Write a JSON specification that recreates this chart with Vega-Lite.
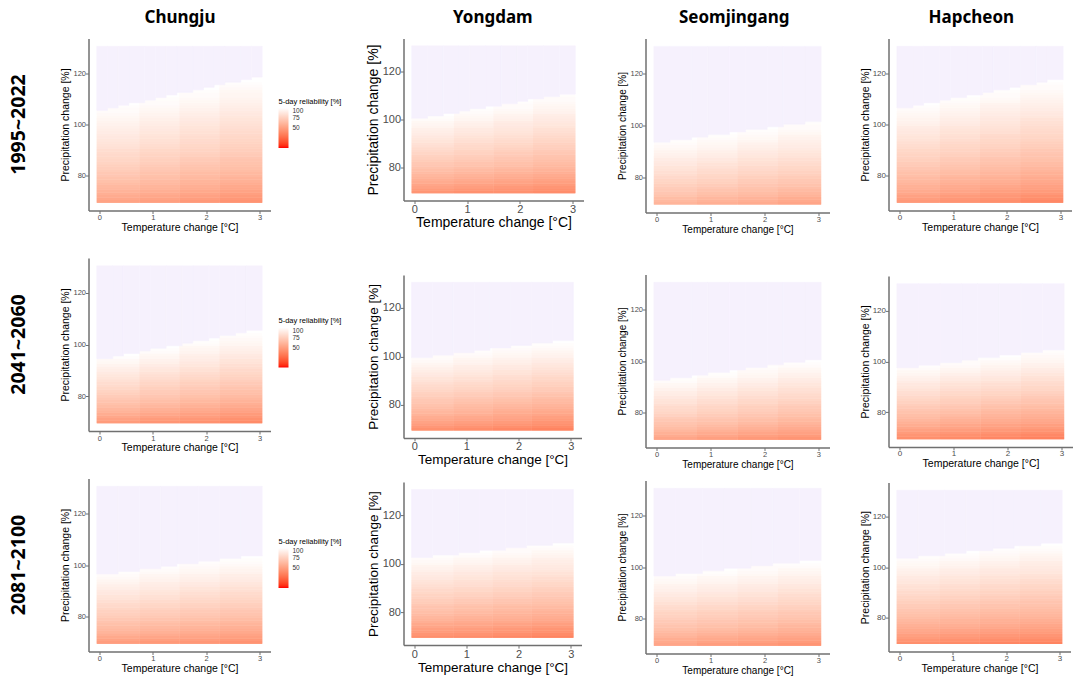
{
"$schema":"https://vega.github.io/schema/vega-lite/v6.json",
"padding":{"left":8.5,"top":8.5,"right":2,"bottom":2},
"background":"white",
"config":{"view":{"stroke":null},"axis":{"grid":false,"domainColor":"#707070","domainWidth":1.5,"tickColor":"#707070","tickWidth":1,"tickSize":3,"labelColor":"#4d4d4d","titleColor":"#000000","labelFont":"Liberation Sans","titleFont":"Liberation Sans","titleFontWeight":"normal","labelPadding":0},"title":{"font":"Noto Sans","fontWeight":"bold","color":"#000000"}},
"datasets":{
"cols":[{"k":"a","x0":-0.05,"x1":0.75},{"k":"b","x0":0.75,"x1":1.5},{"k":"c","x0":1.5,"x1":2.25},{"k":"d","x0":2.25,"x1":3.05}],
"lev":[{"i":1,"y":69.5,"y2":70.5},{"i":2,"y":70.5,"y2":71.5},{"i":3,"y":71.5,"y2":72.5},{"i":4,"y":72.5,"y2":73.5},{"i":5,"y":73.5,"y2":74.5},{"i":6,"y":74.5,"y2":75.5},{"i":7,"y":75.5,"y2":76.5},{"i":8,"y":76.5,"y2":77.5},{"i":9,"y":77.5,"y2":78.5},{"i":10,"y":78.5,"y2":79.5},{"i":11,"y":79.5,"y2":80.5},{"i":12,"y":80.5,"y2":81.5},{"i":13,"y":81.5,"y2":82.5},{"i":14,"y":82.5,"y2":83.5},{"i":15,"y":83.5,"y2":84.5},{"i":16,"y":84.5,"y2":85.5},{"i":17,"y":85.5,"y2":86.5},{"i":18,"y":86.5,"y2":87.5},{"i":19,"y":87.5,"y2":88.5},{"i":20,"y":88.5,"y2":89.5},{"i":21,"y":89.5,"y2":90.5},{"i":22,"y":90.5,"y2":91.5},{"i":23,"y":91.5,"y2":92.5},{"i":24,"y":92.5,"y2":93.5},{"i":25,"y":93.5,"y2":94.5},{"i":26,"y":94.5,"y2":95.5},{"i":27,"y":95.5,"y2":96.5},{"i":28,"y":96.5,"y2":97.5},{"i":29,"y":97.5,"y2":98.5},{"i":30,"y":98.5,"y2":99.5},{"i":31,"y":99.5,"y2":100.5},{"i":32,"y":100.5,"y2":101.5},{"i":33,"y":101.5,"y2":102.5},{"i":34,"y":102.5,"y2":103.5},{"i":35,"y":103.5,"y2":104.5},{"i":36,"y":104.5,"y2":105.5},{"i":37,"y":105.5,"y2":106.5},{"i":38,"y":106.5,"y2":107.5},{"i":39,"y":107.5,"y2":108.5},{"i":40,"y":108.5,"y2":109.5},{"i":41,"y":109.5,"y2":110.5},{"i":42,"y":110.5,"y2":111.5},{"i":43,"y":111.5,"y2":112.5},{"i":44,"y":112.5,"y2":113.5},{"i":45,"y":113.5,"y2":114.5},{"i":46,"y":114.5,"y2":115.5},{"i":47,"y":115.5,"y2":116.5}],
"grid":[
{"p":"C1","k":"a","v":[52,54,56,58,60,62,63,65,67,68,70,71,73,74,75,77,78,79,80,81,82,84,85,86,87,88,89,90,91,92,93,94,95,96,97,98,98,99]},
{"p":"C1","k":"b","v":[50,52,54,56,58,60,61,63,64,66,67,68,70,71,72,74,75,76,77,78,79,81,82,83,84,85,86,87,88,89,90,91,92,93,94,95,96,97,98,98,99]},
{"p":"C1","k":"c","v":[47,49,51,53,55,57,58,60,61,63,64,65,67,68,69,71,72,73,75,76,77,78,79,80,81,82,83,84,85,86,87,88,89,90,91,92,93,94,95,96,97,98,98,99]},
{"p":"C1","k":"d","v":[44,46,48,50,52,54,55,57,59,60,62,63,65,66,67,68,69,70,72,73,74,75,76,77,78,79,80,81,82,83,84,85,86,87,88,89,90,91,92,93,94,95,95,96,97,98,99]},
{"p":"Y1","k":"a","v":[45,48,51,53,56,58,60,62,64,66,68,70,71,73,75,76,78,80,81,83,84,86,87,88,90,91,92,94,95,96,98,99]},
{"p":"Y1","k":"b","v":[43,46,49,51,54,56,58,60,62,64,66,68,69,71,73,74,76,77,79,80,81,83,84,85,87,88,89,91,92,93,95,96,97,98,99]},
{"p":"Y1","k":"c","v":[43,45,47,50,52,54,56,58,60,62,64,66,67,69,70,72,73,75,76,78,79,81,82,83,85,86,87,88,89,90,92,93,94,96,97,98,98,99]},
{"p":"Y1","k":"d","v":[41,43,45,48,50,52,54,56,58,60,62,63,65,66,68,69,71,72,74,75,76,78,79,80,82,83,84,86,87,88,89,90,91,93,94,95,96,97,98,98,99]},
{"p":"S1","k":"a","v":[61,63,65,68,70,72,73,75,77,78,80,82,83,85,86,88,89,90,92,93,94,96,97,98,99]},
{"p":"S1","k":"b","v":[58,60,62,65,67,69,71,73,75,76,78,79,81,82,84,85,87,88,90,91,92,94,95,96,97,98,99]},
{"p":"S1","k":"c","v":[56,58,60,63,65,67,68,70,72,73,75,77,78,80,81,83,84,85,87,88,89,91,92,93,95,96,97,98,99]},
{"p":"S1","k":"d","v":[53,55,57,60,62,64,66,68,70,71,73,75,76,78,79,81,82,83,85,86,87,89,90,91,92,93,94,96,97,98,98,99]},
{"p":"H1","k":"a","v":[47,49,51,54,56,58,59,61,63,64,66,67,69,70,72,73,75,76,77,78,79,81,82,83,85,86,87,88,89,90,92,93,94,95,96,97,98,99]},
{"p":"H1","k":"b","v":[44,46,48,51,53,55,56,58,60,61,63,65,66,68,69,71,72,73,75,76,77,78,79,80,82,83,84,85,86,87,89,90,91,92,93,94,95,96,97,98,99]},
{"p":"H1","k":"c","v":[42,44,46,48,50,52,54,56,58,59,61,62,64,65,66,68,69,70,72,73,74,76,77,78,79,80,81,83,84,85,86,87,88,89,90,91,92,93,94,96,97,98,98,99]},
{"p":"H1","k":"d","v":[39,41,43,46,48,50,51,53,55,56,58,59,61,62,64,65,67,68,69,70,71,73,74,75,77,78,79,80,81,82,83,84,85,87,88,89,90,91,92,93,94,95,96,97,98,98,99]},
{"p":"C2","k":"a","v":[48,51,54,57,60,62,65,67,69,71,73,75,77,79,81,82,84,86,87,89,91,92,94,96,97,99]},
{"p":"C2","k":"b","v":[45,48,51,54,57,59,62,64,66,68,70,72,73,75,77,78,80,82,83,85,87,88,90,92,93,95,96,98,99]},
{"p":"C2","k":"c","v":[43,46,49,51,54,56,59,61,63,65,67,69,70,72,74,75,77,79,80,82,84,85,87,88,90,91,92,94,95,96,98,99]},
{"p":"C2","k":"d","v":[40,43,46,48,51,53,56,58,60,62,64,66,67,69,71,72,74,76,77,79,80,82,83,85,86,88,89,91,92,93,95,96,97,98,99]},
{"p":"Y2","k":"a","v":[43,46,49,52,55,57,60,62,64,66,68,70,71,73,75,76,78,80,81,83,85,86,88,89,91,92,94,95,97,98,98,99]},
{"p":"Y2","k":"b","v":[41,44,47,50,53,55,58,60,62,63,65,67,69,71,73,74,76,78,79,81,83,84,86,87,89,90,91,93,94,95,97,98,99]},
{"p":"Y2","k":"c","v":[39,42,45,48,51,53,55,57,59,61,63,65,67,69,71,72,74,76,77,79,80,82,83,85,86,88,89,91,92,93,95,96,97,98,99]},
{"p":"Y2","k":"d","v":[37,40,43,45,48,50,53,55,57,59,61,63,64,66,68,70,72,73,75,76,78,79,81,82,84,85,87,88,90,91,93,94,95,97,98,99]},
{"p":"S2","k":"a","v":[53,56,59,62,65,67,69,71,73,76,78,80,81,83,85,86,88,90,91,93,95,96,98,99]},
{"p":"S2","k":"b","v":[50,53,56,59,62,64,67,69,71,73,75,77,78,80,82,83,85,87,88,90,92,93,95,96,98,99]},
{"p":"S2","k":"c","v":[47,50,53,56,59,61,64,66,68,70,72,74,75,77,79,80,82,84,85,87,89,90,92,93,95,96,97,98,99]},
{"p":"S2","k":"d","v":[45,48,51,53,56,58,61,63,65,67,69,71,72,74,76,78,80,81,83,84,86,87,89,90,92,93,95,96,98,99]},
{"p":"H2","k":"a","v":[42,45,48,51,54,57,59,62,64,66,68,70,72,74,76,78,80,82,83,85,87,88,90,92,93,95,96,98,99]},
{"p":"H2","k":"b","v":[40,43,46,49,52,54,57,59,61,64,66,68,70,72,74,75,77,79,80,82,84,85,87,89,90,92,94,95,97,98,98,99]},
{"p":"H2","k":"c","v":[38,41,44,47,50,52,55,57,59,61,63,65,67,69,71,73,75,77,78,80,82,83,85,87,88,90,91,93,94,96,97,99]},
{"p":"H2","k":"d","v":[36,39,42,45,48,50,53,55,57,59,61,63,65,67,69,70,72,74,76,78,79,81,82,84,85,87,89,90,92,93,95,96,97,98,99]},
{"p":"C3","k":"a","v":[49,52,55,58,61,63,65,67,69,71,73,75,76,78,80,81,83,85,86,88,89,91,92,94,95,97,98,99]},
{"p":"C3","k":"b","v":[47,50,53,56,59,61,63,65,67,69,71,73,74,76,78,79,81,83,84,86,87,89,90,91,93,94,95,97,98,99]},
{"p":"C3","k":"c","v":[46,49,52,54,57,59,61,63,65,67,69,71,72,74,76,77,79,80,82,83,85,86,88,89,91,92,93,95,96,97,98,99]},
{"p":"C3","k":"d","v":[44,47,50,52,55,57,59,61,63,65,67,69,70,72,74,75,77,78,80,81,83,84,86,87,89,90,91,93,94,95,97,98,99]},
{"p":"Y3","k":"a","v":[42,45,48,50,53,55,58,60,62,64,66,68,69,71,73,74,76,77,79,80,82,83,85,86,88,89,90,92,93,94,96,97,98,99]},
{"p":"Y3","k":"b","v":[41,44,47,49,52,54,56,58,60,62,64,66,67,69,71,72,74,76,77,79,80,82,83,84,86,87,88,90,91,92,94,95,96,98,99]},
{"p":"Y3","k":"c","v":[39,42,45,47,50,52,55,57,59,60,62,64,65,67,69,70,72,74,75,77,78,80,81,82,84,85,86,88,89,90,92,93,94,96,97,98,98,99]},
{"p":"Y3","k":"d","v":[37,40,43,45,48,50,53,55,57,58,60,62,64,66,67,69,70,72,73,75,76,78,79,81,82,84,85,87,88,89,90,91,92,94,95,96,98,99]},
{"p":"S3","k":"a","v":[53,55,57,60,62,64,67,69,71,72,74,76,77,79,81,82,84,86,87,89,90,92,93,94,96,97,98,99]},
{"p":"S3","k":"b","v":[49,52,55,57,60,62,65,67,69,70,72,74,75,77,79,80,82,84,85,87,88,90,91,92,94,95,96,98,99]},
{"p":"S3","k":"c","v":[47,50,53,55,58,60,63,65,67,68,70,72,73,75,77,78,80,82,83,85,86,88,89,90,92,93,94,96,97,98,98,99]},
{"p":"S3","k":"d","v":[45,48,51,53,56,58,60,62,64,66,68,70,71,73,75,76,78,79,81,82,84,85,87,88,90,91,92,94,95,96,98,99]},
{"p":"H3","k":"a","v":[42,45,48,50,53,55,57,59,61,63,65,67,68,70,72,73,75,77,78,80,81,83,84,85,87,88,89,91,92,93,95,96,97,98,99]},
{"p":"H3","k":"b","v":[40,43,46,48,51,53,56,58,60,61,63,65,66,68,70,71,73,75,76,78,79,81,82,83,85,86,87,89,90,91,93,94,95,97,98,99]},
{"p":"H3","k":"c","v":[38,41,44,46,49,51,54,56,58,59,61,63,64,66,68,69,71,73,74,76,77,79,80,81,83,84,85,87,88,89,91,92,93,95,96,97,98,99]},
{"p":"H3","k":"d","v":[37,40,43,45,48,50,52,54,56,58,60,62,63,65,66,68,69,71,72,74,75,77,78,79,81,82,84,85,87,88,89,90,91,93,94,95,97,98,99]}
],
"steps":[
{"p":"C1","x0":-0.05,"x1":0.15,"y":105.5},{"p":"C1","x0":0.15,"x1":0.35,"y":106.5},{"p":"C1","x0":0.35,"x1":0.55,"y":107.5},{"p":"C1","x0":0.55,"x1":0.85,"y":108.5},{"p":"C1","x0":0.85,"x1":1.05,"y":109.5},{"p":"C1","x0":1.05,"x1":1.25,"y":110.5},{"p":"C1","x0":1.25,"x1":1.45,"y":111.5},{"p":"C1","x0":1.45,"x1":1.75,"y":112.5},{"p":"C1","x0":1.75,"x1":1.95,"y":113.5},{"p":"C1","x0":1.95,"x1":2.15,"y":114.5},{"p":"C1","x0":2.15,"x1":2.35,"y":115.5},{"p":"C1","x0":2.35,"x1":2.65,"y":116.5},{"p":"C1","x0":2.65,"x1":2.85,"y":117.5},{"p":"C1","x0":2.85,"x1":3.05,"y":118.5},
{"p":"Y1","x0":-0.05,"x1":0.25,"y":100.5},{"p":"Y1","x0":0.25,"x1":0.55,"y":101.5},{"p":"Y1","x0":0.55,"x1":0.85,"y":102.5},{"p":"Y1","x0":0.85,"x1":1.05,"y":103.5},{"p":"Y1","x0":1.05,"x1":1.35,"y":104.5},{"p":"Y1","x0":1.35,"x1":1.65,"y":105.5},{"p":"Y1","x0":1.65,"x1":1.95,"y":106.5},{"p":"Y1","x0":1.95,"x1":2.15,"y":107.5},{"p":"Y1","x0":2.15,"x1":2.45,"y":108.5},{"p":"Y1","x0":2.45,"x1":2.75,"y":109.5},{"p":"Y1","x0":2.75,"x1":3.05,"y":110.5},
{"p":"S1","x0":-0.05,"x1":0.25,"y":93.5},{"p":"S1","x0":0.25,"x1":0.65,"y":94.5},{"p":"S1","x0":0.65,"x1":0.95,"y":95.5},{"p":"S1","x0":0.95,"x1":1.35,"y":96.5},{"p":"S1","x0":1.35,"x1":1.65,"y":97.5},{"p":"S1","x0":1.65,"x1":2.05,"y":98.5},{"p":"S1","x0":2.05,"x1":2.35,"y":99.5},{"p":"S1","x0":2.35,"x1":2.75,"y":100.5},{"p":"S1","x0":2.75,"x1":3.05,"y":101.5},
{"p":"H1","x0":-0.05,"x1":0.25,"y":106.5},{"p":"H1","x0":0.25,"x1":0.45,"y":107.5},{"p":"H1","x0":0.45,"x1":0.75,"y":108.5},{"p":"H1","x0":0.75,"x1":0.95,"y":109.5},{"p":"H1","x0":0.95,"x1":1.25,"y":110.5},{"p":"H1","x0":1.25,"x1":1.55,"y":111.5},{"p":"H1","x0":1.55,"x1":1.75,"y":112.5},{"p":"H1","x0":1.75,"x1":2.05,"y":113.5},{"p":"H1","x0":2.05,"x1":2.25,"y":114.5},{"p":"H1","x0":2.25,"x1":2.55,"y":115.5},{"p":"H1","x0":2.55,"x1":2.75,"y":116.5},{"p":"H1","x0":2.75,"x1":3.05,"y":117.5},
{"p":"C2","x0":-0.05,"x1":0.25,"y":94.5},{"p":"C2","x0":0.25,"x1":0.45,"y":95.5},{"p":"C2","x0":0.45,"x1":0.75,"y":96.5},{"p":"C2","x0":0.75,"x1":0.95,"y":97.5},{"p":"C2","x0":0.95,"x1":1.25,"y":98.5},{"p":"C2","x0":1.25,"x1":1.55,"y":99.5},{"p":"C2","x0":1.55,"x1":1.75,"y":100.5},{"p":"C2","x0":1.75,"x1":2.05,"y":101.5},{"p":"C2","x0":2.05,"x1":2.25,"y":102.5},{"p":"C2","x0":2.25,"x1":2.55,"y":103.5},{"p":"C2","x0":2.55,"x1":2.75,"y":104.5},{"p":"C2","x0":2.75,"x1":3.05,"y":105.5},
{"p":"Y2","x0":-0.05,"x1":0.35,"y":99.5},{"p":"Y2","x0":0.35,"x1":0.75,"y":100.5},{"p":"Y2","x0":0.75,"x1":1.15,"y":101.5},{"p":"Y2","x0":1.15,"x1":1.45,"y":102.5},{"p":"Y2","x0":1.45,"x1":1.85,"y":103.5},{"p":"Y2","x0":1.85,"x1":2.25,"y":104.5},{"p":"Y2","x0":2.25,"x1":2.65,"y":105.5},{"p":"Y2","x0":2.65,"x1":3.05,"y":106.5},
{"p":"S2","x0":-0.05,"x1":0.25,"y":92.5},{"p":"S2","x0":0.25,"x1":0.65,"y":93.5},{"p":"S2","x0":0.65,"x1":0.95,"y":94.5},{"p":"S2","x0":0.95,"x1":1.35,"y":95.5},{"p":"S2","x0":1.35,"x1":1.65,"y":96.5},{"p":"S2","x0":1.65,"x1":2.05,"y":97.5},{"p":"S2","x0":2.05,"x1":2.35,"y":98.5},{"p":"S2","x0":2.35,"x1":2.75,"y":99.5},{"p":"S2","x0":2.75,"x1":3.05,"y":100.5},
{"p":"H2","x0":-0.05,"x1":0.35,"y":97.5},{"p":"H2","x0":0.35,"x1":0.75,"y":98.5},{"p":"H2","x0":0.75,"x1":1.15,"y":99.5},{"p":"H2","x0":1.15,"x1":1.45,"y":100.5},{"p":"H2","x0":1.45,"x1":1.85,"y":101.5},{"p":"H2","x0":1.85,"x1":2.25,"y":102.5},{"p":"H2","x0":2.25,"x1":2.65,"y":103.5},{"p":"H2","x0":2.65,"x1":3.05,"y":104.5},
{"p":"C3","x0":-0.05,"x1":0.35,"y":96.5},{"p":"C3","x0":0.35,"x1":0.75,"y":97.5},{"p":"C3","x0":0.75,"x1":1.15,"y":98.5},{"p":"C3","x0":1.15,"x1":1.45,"y":99.5},{"p":"C3","x0":1.45,"x1":1.85,"y":100.5},{"p":"C3","x0":1.85,"x1":2.25,"y":101.5},{"p":"C3","x0":2.25,"x1":2.65,"y":102.5},{"p":"C3","x0":2.65,"x1":3.05,"y":103.5},
{"p":"Y3","x0":-0.05,"x1":0.35,"y":102.5},{"p":"Y3","x0":0.35,"x1":0.85,"y":103.5},{"p":"Y3","x0":0.85,"x1":1.25,"y":104.5},{"p":"Y3","x0":1.25,"x1":1.75,"y":105.5},{"p":"Y3","x0":1.75,"x1":2.15,"y":106.5},{"p":"Y3","x0":2.15,"x1":2.65,"y":107.5},{"p":"Y3","x0":2.65,"x1":3.05,"y":108.5},
{"p":"S3","x0":-0.05,"x1":0.35,"y":96.5},{"p":"S3","x0":0.35,"x1":0.85,"y":97.5},{"p":"S3","x0":0.85,"x1":1.25,"y":98.5},{"p":"S3","x0":1.25,"x1":1.75,"y":99.5},{"p":"S3","x0":1.75,"x1":2.15,"y":100.5},{"p":"S3","x0":2.15,"x1":2.65,"y":101.5},{"p":"S3","x0":2.65,"x1":3.05,"y":102.5},
{"p":"H3","x0":-0.05,"x1":0.35,"y":103.5},{"p":"H3","x0":0.35,"x1":0.85,"y":104.5},{"p":"H3","x0":0.85,"x1":1.25,"y":105.5},{"p":"H3","x0":1.25,"x1":1.75,"y":106.5},{"p":"H3","x0":1.75,"x1":2.15,"y":107.5},{"p":"H3","x0":2.15,"x1":2.65,"y":108.5},{"p":"H3","x0":2.65,"x1":3.05,"y":109.5}
]
},
"resolve":{"scale":{"color":"independent"}},
"columns":7,
"align":"none",
"spacing":0,
"concat":[
{"title":{"text":"Chungju","fontSize":17,"anchor":"middle","dx":4.5,"offset":12},
 "resolve":{"scale":{"color":"independent"}},
 "spacing":25.5,
 "vconcat":[
 {"width":182,"height":172,"title":{"text":"1995~2022","orient":"left","anchor":"middle","fontSize":19.5,"offset":31},
  "encoding":{"x":{"field":"x0","type":"quantitative","scale":{"domain":[-0.205,3.205],"nice":false,"zero":false},"axis":{"values":[0,1,2,3],"title":"Temperature change [°C]","labelFontSize":7.5,"titleFontSize":10.5,"titlePadding":1}},"x2":{"field":"x1"},"y":{"field":"y","type":"quantitative","scale":{"domain":[66.45,133.55],"nice":false,"zero":false},"axis":{"values":[80,100,120],"title":"Precipitation change [%]","labelFontSize":7.5,"titleFontSize":10.5,"titlePadding":2}}},
  "layer":[
   {"data":{"name":"grid"},"transform":[{"filter":"datum.p==='C1'"},{"flatten":["v"]},{"window":[{"op":"row_number","as":"i"}],"groupby":["k"]},{"lookup":"i","from":{"data":{"name":"lev"},"key":"i","fields":["y","y2"]}},{"lookup":"k","from":{"data":{"name":"cols"},"key":"k","fields":["x0","x1"]}}],"mark":{"type":"rect"},
    "encoding":{"y2":{"field":"y2"},"color":{"field":"v","type":"quantitative","scale":{"domain":[0,100],"range":["#ff0000","#ffffff"],"interpolate":"lab"},"legend":{"type":"gradient","title":"5-day reliability [%]","orient":"none","legendX":190,"legendY":59,"direction":"vertical","gradientLength":40,"gradientThickness":10,"values":[50,75,100],"titleFontSize":7.5,"titleFontWeight":"normal","titleColor":"#000000","titleFont":"Liberation Sans","labelFontSize":6.5,"labelColor":"#333333","labelFont":"Liberation Sans","labelOffset":4,"titlePadding":3,"gradientStrokeWidth":0}}}},
   {"data":{"name":"grid"},"transform":[{"filter":"datum.p==='C1'"},{"flatten":["v"]},{"window":[{"op":"row_number","as":"i"}],"groupby":["k"]},{"lookup":"i","from":{"data":{"name":"lev"},"key":"i","fields":["y","y2"]}},{"lookup":"k","from":{"data":{"name":"cols"},"key":"k","fields":["x0","x1"]}}],"mark":{"type":"rect"},
    "encoding":{"y2":{"field":"y2"},"color":{"field":"v","type":"quantitative"}}},
   {"data":{"name":"steps"},"transform":[{"filter":"datum.p==='C1'"}],"mark":{"type":"rect","fill":"#f6f1fd","stroke":"#f6f1fd","strokeWidth":0.6},"encoding":{"y2":{"datum":130.5}}}
  ]},
 {"width":182,"height":173,"title":{"text":"2041~2060","orient":"left","anchor":"middle","fontSize":19.5,"offset":31},
  "encoding":{"x":{"field":"x0","type":"quantitative","scale":{"domain":[-0.205,3.205],"nice":false,"zero":false},"axis":{"values":[0,1,2,3],"title":"Temperature change [°C]","labelFontSize":7.5,"titleFontSize":10.5,"titlePadding":1}},"x2":{"field":"x1"},"y":{"field":"y","type":"quantitative","scale":{"domain":[66.45,133.55],"nice":false,"zero":false},"axis":{"values":[80,100,120],"title":"Precipitation change [%]","labelFontSize":7.5,"titleFontSize":10.5,"titlePadding":2}}},
  "layer":[
   {"data":{"name":"grid"},"transform":[{"filter":"datum.p==='C2'"},{"flatten":["v"]},{"window":[{"op":"row_number","as":"i"}],"groupby":["k"]},{"lookup":"i","from":{"data":{"name":"lev"},"key":"i","fields":["y","y2"]}},{"lookup":"k","from":{"data":{"name":"cols"},"key":"k","fields":["x0","x1"]}}],"mark":{"type":"rect"},
    "encoding":{"y2":{"field":"y2"},"color":{"field":"v","type":"quantitative","scale":{"domain":[0,100],"range":["#ff0000","#ffffff"],"interpolate":"lab"},"legend":{"type":"gradient","title":"5-day reliability [%]","orient":"none","legendX":190,"legendY":59,"direction":"vertical","gradientLength":40,"gradientThickness":10,"values":[50,75,100],"titleFontSize":7.5,"titleFontWeight":"normal","titleColor":"#000000","titleFont":"Liberation Sans","labelFontSize":6.5,"labelColor":"#333333","labelFont":"Liberation Sans","labelOffset":4,"titlePadding":3,"gradientStrokeWidth":0}}}},
   {"data":{"name":"grid"},"transform":[{"filter":"datum.p==='C2'"},{"flatten":["v"]},{"window":[{"op":"row_number","as":"i"}],"groupby":["k"]},{"lookup":"i","from":{"data":{"name":"lev"},"key":"i","fields":["y","y2"]}},{"lookup":"k","from":{"data":{"name":"cols"},"key":"k","fields":["x0","x1"]}}],"mark":{"type":"rect"},
    "encoding":{"y2":{"field":"y2"},"color":{"field":"v","type":"quantitative"}}},
   {"data":{"name":"steps"},"transform":[{"filter":"datum.p==='C2'"}],"mark":{"type":"rect","fill":"#f6f1fd","stroke":"#f6f1fd","strokeWidth":0.6},"encoding":{"y2":{"datum":130.5}}}
  ]},
 {"width":182,"height":173,"title":{"text":"2081~2100","orient":"left","anchor":"middle","fontSize":19.5,"offset":31},
  "encoding":{"x":{"field":"x0","type":"quantitative","scale":{"domain":[-0.205,3.205],"nice":false,"zero":false},"axis":{"values":[0,1,2,3],"title":"Temperature change [°C]","labelFontSize":7.5,"titleFontSize":10.5,"titlePadding":1}},"x2":{"field":"x1"},"y":{"field":"y","type":"quantitative","scale":{"domain":[66.45,133.55],"nice":false,"zero":false},"axis":{"values":[80,100,120],"title":"Precipitation change [%]","labelFontSize":7.5,"titleFontSize":10.5,"titlePadding":2}}},
  "layer":[
   {"data":{"name":"grid"},"transform":[{"filter":"datum.p==='C3'"},{"flatten":["v"]},{"window":[{"op":"row_number","as":"i"}],"groupby":["k"]},{"lookup":"i","from":{"data":{"name":"lev"},"key":"i","fields":["y","y2"]}},{"lookup":"k","from":{"data":{"name":"cols"},"key":"k","fields":["x0","x1"]}}],"mark":{"type":"rect"},
    "encoding":{"y2":{"field":"y2"},"color":{"field":"v","type":"quantitative","scale":{"domain":[0,100],"range":["#ff0000","#ffffff"],"interpolate":"lab"},"legend":{"type":"gradient","title":"5-day reliability [%]","orient":"none","legendX":190,"legendY":59,"direction":"vertical","gradientLength":40,"gradientThickness":10,"values":[50,75,100],"titleFontSize":7.5,"titleFontWeight":"normal","titleColor":"#000000","titleFont":"Liberation Sans","labelFontSize":6.5,"labelColor":"#333333","labelFont":"Liberation Sans","labelOffset":4,"titlePadding":3,"gradientStrokeWidth":0}}}},
   {"data":{"name":"grid"},"transform":[{"filter":"datum.p==='C3'"},{"flatten":["v"]},{"window":[{"op":"row_number","as":"i"}],"groupby":["k"]},{"lookup":"i","from":{"data":{"name":"lev"},"key":"i","fields":["y","y2"]}},{"lookup":"k","from":{"data":{"name":"cols"},"key":"k","fields":["x0","x1"]}}],"mark":{"type":"rect"},
    "encoding":{"y2":{"field":"y2"},"color":{"field":"v","type":"quantitative"}}},
   {"data":{"name":"steps"},"transform":[{"filter":"datum.p==='C3'"}],"mark":{"type":"rect","fill":"#f6f1fd","stroke":"#f6f1fd","strokeWidth":0.6},"encoding":{"y2":{"datum":130.5}}}
  ]}
 ]},
{"width":23.5,"height":4,"view":{"fill":"#ffffff","stroke":null},"data":{"values":[]},"mark":"point","encoding":{}},
{"title":{"text":"Yongdam","fontSize":17,"anchor":"middle","dx":18,"offset":12},
 "resolve":{"scale":{"color":"independent"}},
 "spacing":45.4,
 "vconcat":[
 {"width":180,"height":162,
  "encoding":{"x":{"field":"x0","type":"quantitative","scale":{"domain":[-0.205,3.205],"nice":false,"zero":false},"axis":{"values":[0,1,2,3],"title":"Temperature change [°C]","labelFontSize":11,"titleFontSize":14,"titlePadding":1}},"x2":{"field":"x1"},"y":{"field":"y","type":"quantitative","scale":{"domain":[66.45,133.55],"nice":false,"zero":false},"axis":{"values":[80,100,120],"title":"Precipitation change [%]","labelFontSize":11,"titleFontSize":14,"titlePadding":2}}},
  "layer":[
   {"data":{"name":"grid"},"transform":[{"filter":"datum.p==='Y1'"},{"flatten":["v"]},{"window":[{"op":"row_number","as":"i"}],"groupby":["k"]},{"lookup":"i","from":{"data":{"name":"lev"},"key":"i","fields":["y","y2"]}},{"lookup":"k","from":{"data":{"name":"cols"},"key":"k","fields":["x0","x1"]}}],"mark":{"type":"rect"},
    "encoding":{"y2":{"field":"y2"},"color":{"field":"v","type":"quantitative","scale":{"domain":[0,100],"range":["#ff0000","#ffffff"],"interpolate":"lab"},"legend":null}}},
   {"data":{"name":"grid"},"transform":[{"filter":"datum.p==='Y1'"},{"flatten":["v"]},{"window":[{"op":"row_number","as":"i"}],"groupby":["k"]},{"lookup":"i","from":{"data":{"name":"lev"},"key":"i","fields":["y","y2"]}},{"lookup":"k","from":{"data":{"name":"cols"},"key":"k","fields":["x0","x1"]}}],"mark":{"type":"rect"},
    "encoding":{"y2":{"field":"y2"},"color":{"field":"v","type":"quantitative","legend":null}}},
   {"data":{"name":"steps"},"transform":[{"filter":"datum.p==='Y1'"}],"mark":{"type":"rect","fill":"#f6f1fd","stroke":"#f6f1fd","strokeWidth":0.6},"encoding":{"y2":{"datum":130.5}}}
  ]},
 {"spacing":15.2,"resolve":{"scale":{"color":"independent"}},"vconcat":[
 {"width":178,"height":163,
  "encoding":{"x":{"field":"x0","type":"quantitative","scale":{"domain":[-0.205,3.205],"nice":false,"zero":false},"axis":{"values":[0,1,2,3],"title":"Temperature change [°C]","labelFontSize":11,"titleFontSize":13.5,"titlePadding":1}},"x2":{"field":"x1"},"y":{"field":"y","type":"quantitative","scale":{"domain":[66.45,133.55],"nice":false,"zero":false},"axis":{"values":[80,100,120],"title":"Precipitation change [%]","labelFontSize":11,"titleFontSize":13.5,"titlePadding":2}}},
  "layer":[
   {"data":{"name":"grid"},"transform":[{"filter":"datum.p==='Y2'"},{"flatten":["v"]},{"window":[{"op":"row_number","as":"i"}],"groupby":["k"]},{"lookup":"i","from":{"data":{"name":"lev"},"key":"i","fields":["y","y2"]}},{"lookup":"k","from":{"data":{"name":"cols"},"key":"k","fields":["x0","x1"]}}],"mark":{"type":"rect"},
    "encoding":{"y2":{"field":"y2"},"color":{"field":"v","type":"quantitative","scale":{"domain":[0,100],"range":["#ff0000","#ffffff"],"interpolate":"lab"},"legend":null}}},
   {"data":{"name":"grid"},"transform":[{"filter":"datum.p==='Y2'"},{"flatten":["v"]},{"window":[{"op":"row_number","as":"i"}],"groupby":["k"]},{"lookup":"i","from":{"data":{"name":"lev"},"key":"i","fields":["y","y2"]}},{"lookup":"k","from":{"data":{"name":"cols"},"key":"k","fields":["x0","x1"]}}],"mark":{"type":"rect"},
    "encoding":{"y2":{"field":"y2"},"color":{"field":"v","type":"quantitative","legend":null}}},
   {"data":{"name":"steps"},"transform":[{"filter":"datum.p==='Y2'"}],"mark":{"type":"rect","fill":"#f6f1fd","stroke":"#f6f1fd","strokeWidth":0.6},"encoding":{"y2":{"datum":130.5}}}
  ]},
 {"width":178,"height":163,
  "encoding":{"x":{"field":"x0","type":"quantitative","scale":{"domain":[-0.205,3.205],"nice":false,"zero":false},"axis":{"values":[0,1,2,3],"title":"Temperature change [°C]","labelFontSize":11,"titleFontSize":13.5,"titlePadding":1}},"x2":{"field":"x1"},"y":{"field":"y","type":"quantitative","scale":{"domain":[66.45,133.55],"nice":false,"zero":false},"axis":{"values":[80,100,120],"title":"Precipitation change [%]","labelFontSize":11,"titleFontSize":13.5,"titlePadding":2}}},
  "layer":[
   {"data":{"name":"grid"},"transform":[{"filter":"datum.p==='Y3'"},{"flatten":["v"]},{"window":[{"op":"row_number","as":"i"}],"groupby":["k"]},{"lookup":"i","from":{"data":{"name":"lev"},"key":"i","fields":["y","y2"]}},{"lookup":"k","from":{"data":{"name":"cols"},"key":"k","fields":["x0","x1"]}}],"mark":{"type":"rect"},
    "encoding":{"y2":{"field":"y2"},"color":{"field":"v","type":"quantitative","scale":{"domain":[0,100],"range":["#ff0000","#ffffff"],"interpolate":"lab"},"legend":null}}},
   {"data":{"name":"grid"},"transform":[{"filter":"datum.p==='Y3'"},{"flatten":["v"]},{"window":[{"op":"row_number","as":"i"}],"groupby":["k"]},{"lookup":"i","from":{"data":{"name":"lev"},"key":"i","fields":["y","y2"]}},{"lookup":"k","from":{"data":{"name":"cols"},"key":"k","fields":["x0","x1"]}}],"mark":{"type":"rect"},
    "encoding":{"y2":{"field":"y2"},"color":{"field":"v","type":"quantitative","legend":null}}},
   {"data":{"name":"steps"},"transform":[{"filter":"datum.p==='Y3'"}],"mark":{"type":"rect","fill":"#f6f1fd","stroke":"#f6f1fd","strokeWidth":0.6},"encoding":{"y2":{"datum":130.5}}}
  ]}
 ]}
 ]},
{"width":33.5,"height":4,"view":{"fill":"#ffffff","stroke":null},"data":{"values":[]},"mark":"point","encoding":{}},
{"title":{"text":"Seomjingang","fontSize":17,"anchor":"middle","dx":10.5,"offset":12},
 "resolve":{"scale":{"color":"independent"}},
 "spacing":40,
 "vconcat":[
 {"width":184,"height":174,
  "encoding":{"x":{"field":"x0","type":"quantitative","scale":{"domain":[-0.205,3.205],"nice":false,"zero":false},"axis":{"values":[0,1,2,3],"title":"Temperature change [°C]","labelFontSize":7.5,"titleFontSize":10,"titlePadding":1}},"x2":{"field":"x1"},"y":{"field":"y","type":"quantitative","scale":{"domain":[66.45,133.55],"nice":false,"zero":false},"axis":{"values":[80,100,120],"title":"Precipitation change [%]","labelFontSize":7.5,"titleFontSize":10,"titlePadding":2}}},
  "layer":[
   {"data":{"name":"grid"},"transform":[{"filter":"datum.p==='S1'"},{"flatten":["v"]},{"window":[{"op":"row_number","as":"i"}],"groupby":["k"]},{"lookup":"i","from":{"data":{"name":"lev"},"key":"i","fields":["y","y2"]}},{"lookup":"k","from":{"data":{"name":"cols"},"key":"k","fields":["x0","x1"]}}],"mark":{"type":"rect"},
    "encoding":{"y2":{"field":"y2"},"color":{"field":"v","type":"quantitative","scale":{"domain":[0,100],"range":["#ff0000","#ffffff"],"interpolate":"lab"},"legend":null}}},
   {"data":{"name":"grid"},"transform":[{"filter":"datum.p==='S1'"},{"flatten":["v"]},{"window":[{"op":"row_number","as":"i"}],"groupby":["k"]},{"lookup":"i","from":{"data":{"name":"lev"},"key":"i","fields":["y","y2"]}},{"lookup":"k","from":{"data":{"name":"cols"},"key":"k","fields":["x0","x1"]}}],"mark":{"type":"rect"},
    "encoding":{"y2":{"field":"y2"},"color":{"field":"v","type":"quantitative","legend":null}}},
   {"data":{"name":"steps"},"transform":[{"filter":"datum.p==='S1'"}],"mark":{"type":"rect","fill":"#f6f1fd","stroke":"#f6f1fd","strokeWidth":0.6},"encoding":{"y2":{"datum":130.5}}}
  ]},
 {"spacing":11,"resolve":{"scale":{"color":"independent"}},"vconcat":[
 {"width":184,"height":173,
  "encoding":{"x":{"field":"x0","type":"quantitative","scale":{"domain":[-0.205,3.205],"nice":false,"zero":false},"axis":{"values":[0,1,2,3],"title":"Temperature change [°C]","labelFontSize":7.5,"titleFontSize":10,"titlePadding":1}},"x2":{"field":"x1"},"y":{"field":"y","type":"quantitative","scale":{"domain":[66.45,133.55],"nice":false,"zero":false},"axis":{"values":[80,100,120],"title":"Precipitation change [%]","labelFontSize":7.5,"titleFontSize":10,"titlePadding":2}}},
  "layer":[
   {"data":{"name":"grid"},"transform":[{"filter":"datum.p==='S2'"},{"flatten":["v"]},{"window":[{"op":"row_number","as":"i"}],"groupby":["k"]},{"lookup":"i","from":{"data":{"name":"lev"},"key":"i","fields":["y","y2"]}},{"lookup":"k","from":{"data":{"name":"cols"},"key":"k","fields":["x0","x1"]}}],"mark":{"type":"rect"},
    "encoding":{"y2":{"field":"y2"},"color":{"field":"v","type":"quantitative","scale":{"domain":[0,100],"range":["#ff0000","#ffffff"],"interpolate":"lab"},"legend":null}}},
   {"data":{"name":"grid"},"transform":[{"filter":"datum.p==='S2'"},{"flatten":["v"]},{"window":[{"op":"row_number","as":"i"}],"groupby":["k"]},{"lookup":"i","from":{"data":{"name":"lev"},"key":"i","fields":["y","y2"]}},{"lookup":"k","from":{"data":{"name":"cols"},"key":"k","fields":["x0","x1"]}}],"mark":{"type":"rect"},
    "encoding":{"y2":{"field":"y2"},"color":{"field":"v","type":"quantitative","legend":null}}},
   {"data":{"name":"steps"},"transform":[{"filter":"datum.p==='S2'"}],"mark":{"type":"rect","fill":"#f6f1fd","stroke":"#f6f1fd","strokeWidth":0.6},"encoding":{"y2":{"datum":130.5}}}
  ]},
 {"width":184,"height":173,
  "encoding":{"x":{"field":"x0","type":"quantitative","scale":{"domain":[-0.205,3.205],"nice":false,"zero":false},"axis":{"values":[0,1,2,3],"title":"Temperature change [°C]","labelFontSize":7.5,"titleFontSize":10,"titlePadding":1}},"x2":{"field":"x1"},"y":{"field":"y","type":"quantitative","scale":{"domain":[66.45,133.55],"nice":false,"zero":false},"axis":{"values":[80,100,120],"title":"Precipitation change [%]","labelFontSize":7.5,"titleFontSize":10,"titlePadding":2}}},
  "layer":[
   {"data":{"name":"grid"},"transform":[{"filter":"datum.p==='S3'"},{"flatten":["v"]},{"window":[{"op":"row_number","as":"i"}],"groupby":["k"]},{"lookup":"i","from":{"data":{"name":"lev"},"key":"i","fields":["y","y2"]}},{"lookup":"k","from":{"data":{"name":"cols"},"key":"k","fields":["x0","x1"]}}],"mark":{"type":"rect"},
    "encoding":{"y2":{"field":"y2"},"color":{"field":"v","type":"quantitative","scale":{"domain":[0,100],"range":["#ff0000","#ffffff"],"interpolate":"lab"},"legend":null}}},
   {"data":{"name":"grid"},"transform":[{"filter":"datum.p==='S3'"},{"flatten":["v"]},{"window":[{"op":"row_number","as":"i"}],"groupby":["k"]},{"lookup":"i","from":{"data":{"name":"lev"},"key":"i","fields":["y","y2"]}},{"lookup":"k","from":{"data":{"name":"cols"},"key":"k","fields":["x0","x1"]}}],"mark":{"type":"rect"},
    "encoding":{"y2":{"field":"y2"},"color":{"field":"v","type":"quantitative","legend":null}}},
   {"data":{"name":"steps"},"transform":[{"filter":"datum.p==='S3'"}],"mark":{"type":"rect","fill":"#f6f1fd","stroke":"#f6f1fd","strokeWidth":0.6},"encoding":{"y2":{"datum":130.5}}}
  ]}
 ]}
 ]},
{"width":29.2,"height":4,"view":{"fill":"#ffffff","stroke":null},"data":{"values":[]},"mark":"point","encoding":{}},
{"title":{"text":"Hapcheon","fontSize":17,"anchor":"middle","dx":5,"offset":12},
 "resolve":{"scale":{"color":"independent"}},
 "spacing":42.4,
 "vconcat":[
 {"width":183,"height":172,
  "encoding":{"x":{"field":"x0","type":"quantitative","scale":{"domain":[-0.205,3.205],"nice":false,"zero":false},"axis":{"values":[0,1,2,3],"title":"Temperature change [°C]","labelFontSize":8,"titleFontSize":10.5,"titlePadding":1}},"x2":{"field":"x1"},"y":{"field":"y","type":"quantitative","scale":{"domain":[66.45,133.55],"nice":false,"zero":false},"axis":{"values":[80,100,120],"title":"Precipitation change [%]","labelFontSize":8,"titleFontSize":10.5,"titlePadding":2}}},
  "layer":[
   {"data":{"name":"grid"},"transform":[{"filter":"datum.p==='H1'"},{"flatten":["v"]},{"window":[{"op":"row_number","as":"i"}],"groupby":["k"]},{"lookup":"i","from":{"data":{"name":"lev"},"key":"i","fields":["y","y2"]}},{"lookup":"k","from":{"data":{"name":"cols"},"key":"k","fields":["x0","x1"]}}],"mark":{"type":"rect"},
    "encoding":{"y2":{"field":"y2"},"color":{"field":"v","type":"quantitative","scale":{"domain":[0,100],"range":["#ff0000","#ffffff"],"interpolate":"lab"},"legend":null}}},
   {"data":{"name":"grid"},"transform":[{"filter":"datum.p==='H1'"},{"flatten":["v"]},{"window":[{"op":"row_number","as":"i"}],"groupby":["k"]},{"lookup":"i","from":{"data":{"name":"lev"},"key":"i","fields":["y","y2"]}},{"lookup":"k","from":{"data":{"name":"cols"},"key":"k","fields":["x0","x1"]}}],"mark":{"type":"rect"},
    "encoding":{"y2":{"field":"y2"},"color":{"field":"v","type":"quantitative","legend":null}}},
   {"data":{"name":"steps"},"transform":[{"filter":"datum.p==='H1'"}],"mark":{"type":"rect","fill":"#f6f1fd","stroke":"#f6f1fd","strokeWidth":0.6},"encoding":{"y2":{"datum":130.5}}}
  ]},
 {"spacing":12.7,"resolve":{"scale":{"color":"independent"}},"vconcat":[
 {"width":184,"height":171,
  "encoding":{"x":{"field":"x0","type":"quantitative","scale":{"domain":[-0.205,3.205],"nice":false,"zero":false},"axis":{"values":[0,1,2,3],"title":"Temperature change [°C]","labelFontSize":8,"titleFontSize":10.5,"titlePadding":1}},"x2":{"field":"x1"},"y":{"field":"y","type":"quantitative","scale":{"domain":[66.45,133.55],"nice":false,"zero":false},"axis":{"values":[80,100,120],"title":"Precipitation change [%]","labelFontSize":8,"titleFontSize":10.5,"titlePadding":2}}},
  "layer":[
   {"data":{"name":"grid"},"transform":[{"filter":"datum.p==='H2'"},{"flatten":["v"]},{"window":[{"op":"row_number","as":"i"}],"groupby":["k"]},{"lookup":"i","from":{"data":{"name":"lev"},"key":"i","fields":["y","y2"]}},{"lookup":"k","from":{"data":{"name":"cols"},"key":"k","fields":["x0","x1"]}}],"mark":{"type":"rect"},
    "encoding":{"y2":{"field":"y2"},"color":{"field":"v","type":"quantitative","scale":{"domain":[0,100],"range":["#ff0000","#ffffff"],"interpolate":"lab"},"legend":null}}},
   {"data":{"name":"grid"},"transform":[{"filter":"datum.p==='H2'"},{"flatten":["v"]},{"window":[{"op":"row_number","as":"i"}],"groupby":["k"]},{"lookup":"i","from":{"data":{"name":"lev"},"key":"i","fields":["y","y2"]}},{"lookup":"k","from":{"data":{"name":"cols"},"key":"k","fields":["x0","x1"]}}],"mark":{"type":"rect"},
    "encoding":{"y2":{"field":"y2"},"color":{"field":"v","type":"quantitative","legend":null}}},
   {"data":{"name":"steps"},"transform":[{"filter":"datum.p==='H2'"}],"mark":{"type":"rect","fill":"#f6f1fd","stroke":"#f6f1fd","strokeWidth":0.6},"encoding":{"y2":{"datum":130.5}}}
  ]},
 {"width":182,"height":169,
  "encoding":{"x":{"field":"x0","type":"quantitative","scale":{"domain":[-0.205,3.205],"nice":false,"zero":false},"axis":{"values":[0,1,2,3],"title":"Temperature change [°C]","labelFontSize":8,"titleFontSize":10.5,"titlePadding":1}},"x2":{"field":"x1"},"y":{"field":"y","type":"quantitative","scale":{"domain":[66.45,133.55],"nice":false,"zero":false},"axis":{"values":[80,100,120],"title":"Precipitation change [%]","labelFontSize":8,"titleFontSize":10.5,"titlePadding":2}}},
  "layer":[
   {"data":{"name":"grid"},"transform":[{"filter":"datum.p==='H3'"},{"flatten":["v"]},{"window":[{"op":"row_number","as":"i"}],"groupby":["k"]},{"lookup":"i","from":{"data":{"name":"lev"},"key":"i","fields":["y","y2"]}},{"lookup":"k","from":{"data":{"name":"cols"},"key":"k","fields":["x0","x1"]}}],"mark":{"type":"rect"},
    "encoding":{"y2":{"field":"y2"},"color":{"field":"v","type":"quantitative","scale":{"domain":[0,100],"range":["#ff0000","#ffffff"],"interpolate":"lab"},"legend":null}}},
   {"data":{"name":"grid"},"transform":[{"filter":"datum.p==='H3'"},{"flatten":["v"]},{"window":[{"op":"row_number","as":"i"}],"groupby":["k"]},{"lookup":"i","from":{"data":{"name":"lev"},"key":"i","fields":["y","y2"]}},{"lookup":"k","from":{"data":{"name":"cols"},"key":"k","fields":["x0","x1"]}}],"mark":{"type":"rect"},
    "encoding":{"y2":{"field":"y2"},"color":{"field":"v","type":"quantitative","legend":null}}},
   {"data":{"name":"steps"},"transform":[{"filter":"datum.p==='H3'"}],"mark":{"type":"rect","fill":"#f6f1fd","stroke":"#f6f1fd","strokeWidth":0.6},"encoding":{"y2":{"datum":130.5}}}
  ]}
 ]}
 ]}
]
}
